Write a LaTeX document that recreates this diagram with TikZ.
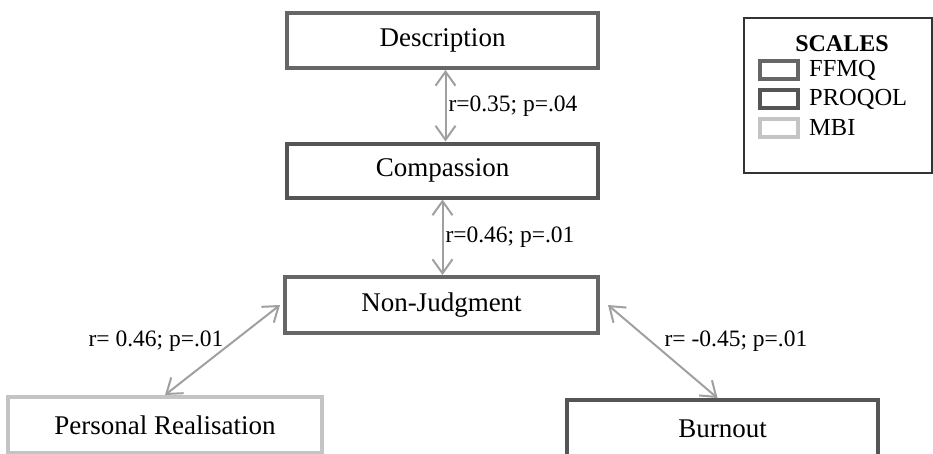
\documentclass[tikz,border=0pt]{standalone}
\usepackage{fontspec}
\setmainfont{Liberation Serif}
\usepackage{tikz}
\usetikzlibrary{arrows.meta,calc}

\definecolor{ffmqcol}{HTML}{666666}
\definecolor{proqolcol}{HTML}{555555}
\definecolor{mbicol}{HTML}{C4C4C4}
\definecolor{linkcol}{HTML}{A0A0A0}

\begin{document}
\begin{tikzpicture}[x=1pt,y=-1pt,
        box/.style={draw, line width=4pt, fill=white, inner sep=0pt,
            font=\fontsize{27}{31}\selectfont},
        swatch/.style={draw, line width=4pt, minimum width=38pt, minimum height=18pt, inner sep=0pt},
        link/.style={draw=linkcol, line width=2pt,
            {Straight Barb[length=14pt,width=20pt]}-{Straight Barb[length=14pt,width=20pt]}},
        lbl/.style={font=\fontsize{23.5}{27}\selectfont, inner sep=2pt}]
            \useasboundingbox (0,0) rectangle (933,453);

            \node[box, draw=ffmqcol, minimum width=311pt, minimum height=55pt] (DESC) at (442.5,40.5) {Description};
            \node[box, draw=proqolcol, minimum width=311pt, minimum height=54pt] (COMP) at (442.5,170.5) {Compassion};
            \node[box, draw=ffmqcol, minimum width=313pt, minimum height=56pt] (NJ) at (441.5,305) {Non-Judgment};
            \node[box, draw=mbicol, minimum width=314pt, minimum height=56pt] (PR) at (165,425) {Personal Realisation};
            \node[box, draw=proqolcol, minimum width=311pt, minimum height=58pt] (BURN) at (722.5,429) {Burnout};

            \draw[link] ([xshift=3pt]DESC.south) -- ([xshift=3pt]COMP.north)
                node[lbl, midway, right] {r=0.35; p=.04};
            \draw[link] (COMP.south) -- ([xshift=1pt]NJ.north)
                node[lbl, midway, right] {r=0.46; p=.01};
            \draw[link] ([xshift=-3pt]NJ.west) -- (PR.north);
            \draw[link] ([xshift=8pt]NJ.east) -- ([xshift=-5pt]BURN.north);
            \node[lbl] (LBLPR) at (156,341) {r= 0.46; p=.01};
            \node[lbl] (LBLBURN) at (736,341) {r= -0.45; p=.01};

            % legend
            \node[draw=black!80, line width=1.5pt, minimum width=188pt, minimum height=155pt] (LEG) at (838,95.5) {};
            \node[lbl, font=\fontsize{24}{28}\selectfont\bfseries] (TITLE) at (842,44) {SCALES};
            \node[swatch, draw=ffmqcol] (SWA) at (779,70) {};
            \node[swatch, draw=proqolcol] (SWB) at (779,99) {};
            \node[swatch, draw=mbicol] (SWC) at (779,128) {};
            \node[lbl, anchor=west, font=\fontsize{24.5}{28}\selectfont] (KEYA) at ([xshift=7pt]SWA.east) {FFMQ};
            \node[lbl, anchor=west, font=\fontsize{24.5}{28}\selectfont] (KEYB) at ([xshift=7pt]SWB.east) {PROQOL};
            \node[lbl, anchor=west, font=\fontsize{24.5}{28}\selectfont] (KEYC) at ([xshift=7pt]SWC.east) {MBI};
        \end{tikzpicture}
\end{document}
